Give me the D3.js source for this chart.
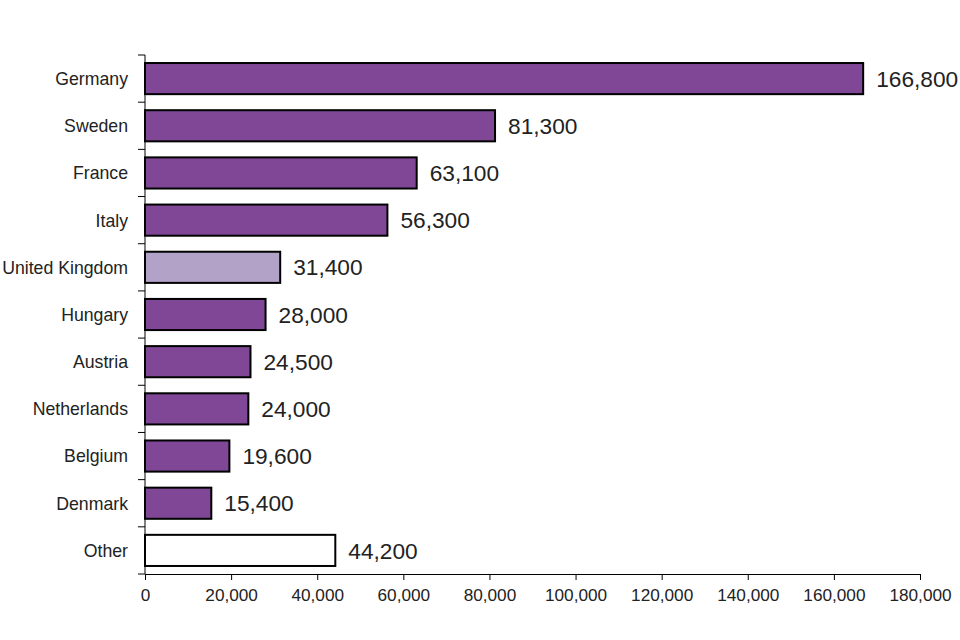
<!DOCTYPE html>
<html>
<head>
<meta charset="utf-8">
<script src="https://cdn.jsdelivr.net/npm/d3@7"></script>
<style>
  body { margin: 0; background: #fff; }
  svg { display: block; font-family: "Liberation Sans", Arial, sans-serif; }
</style>
</head>
<body>
<svg id="chart"></svg>
<script>
// Data
const countries = ["Germany", "Sweden", "France", "Italy", "United Kingdom", "Hungary",
  "Austria", "Netherlands", "Belgium", "Denmark", "Other"];
const values = [166800, 81300, 63100, 56300, 31400, 28000, 24500, 24000, 19600, 15400, 44200];
const xTicks = [0, 20000, 40000, 60000, 80000, 100000, 120000, 140000, 160000, 180000];

const width = 960, height = 640;
const margin = { top: 55, right: 40, bottom: 66, left: 145 };

const svg = d3.select("#chart")
  .attr("width", width)
  .attr("height", height);

const x = d3.scaleLinear()
  .domain([0, 180000])
  .range([margin.left, 920]);

const y = d3.scaleBand()
  .domain(countries)
  .range([margin.top, height - margin.bottom])
  .paddingInner(0.34)
  .paddingOuter(0.17);

// bar fill: UK highlighted, "Other" left empty
const fillFor = name => name === "United Kingdom" ? "#b3a2c7"
  : name === "Other" ? "#ffffff" : "#7f4796";

const rows = countries.map((c, i) => ({ name: c, value: values[i] }));

svg.append("g")
  .selectAll("rect")
  .data(rows)
  .join("rect")
    .attr("x", x(0))
    .attr("y", d => y(d.name))
    .attr("width", d => x(d.value) - x(0))
    .attr("height", y.bandwidth())
    .attr("fill", d => fillFor(d.name))
    .attr("stroke", "#000")
    .attr("stroke-width", 2);

svg.append("g")
  .selectAll("text")
  .data(rows)
  .join("text")
    .attr("x", d => x(d.value) + 13)
    .attr("y", d => y(d.name) + y.bandwidth() / 2)
    .attr("dy", "0.36em")
    .attr("font-size", 22.7)
    .attr("fill", "#222")
    .text(d => d3.format(",")(d.value));

// x axis
const xAxis = svg.append("g")
  .attr("transform", `translate(0,${height - margin.bottom})`)
  .call(d3.axisBottom(x).tickValues(xTicks).tickFormat(d3.format(",")).tickSize(6).tickSizeOuter(0));
xAxis.select(".domain").attr("stroke", "#000");
xAxis.selectAll(".tick line").attr("stroke", "#000");
xAxis.selectAll("text")
  .attr("font-size", 17.2)
  .attr("fill", "#222")
  .attr("font-family", "'Liberation Sans', Arial, sans-serif")
  .attr("dy", "1.05em");

// y axis: ticks sit between the categories
const step = y.step();
const boundaries = d3.range(countries.length + 1).map(i => margin.top + i * step);
const yAxis = svg.append("g");
yAxis.append("line")
  .attr("x1", x(0)).attr("x2", x(0))
  .attr("y1", margin.top).attr("y2", height - margin.bottom)
  .attr("stroke", "#000");
yAxis.selectAll("line.tk")
  .data(boundaries)
  .join("line")
    .attr("class", "tk")
    .attr("x1", x(0) - 7).attr("x2", x(0))
    .attr("y1", d => d).attr("y2", d => d)
    .attr("stroke", "#000");
yAxis.selectAll("text")
  .data(countries)
  .join("text")
    .attr("x", x(0) - 17)
    .attr("y", d => y(d) + y.bandwidth() / 2)
    .attr("dy", "0.36em")
    .attr("text-anchor", "end")
    .attr("font-size", 17.7)
    .attr("fill", "#222")
    .text(d => d);
</script>
</body>
</html>
